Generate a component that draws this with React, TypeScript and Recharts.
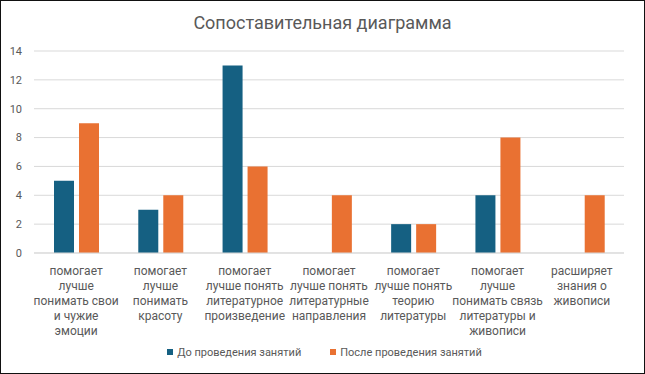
import { BarChart, Bar, XAxis, YAxis, CartesianGrid, Legend } from "recharts";

const categories = [
  "помогает\nлучше\nпонимать свои\nи чужие\nэмоции",
  "помогает\nлучше\nпонимать\nкрасоту",
  "помогает\nлучше понять\nлитературное\nпроизведение",
  "помогает\nлучше понять\nлитературные\nнаправления",
  "помогает\nлучше понять\nтеорию\nлитературы",
  "помогает\nлучше\nпонимать связь\nлитературы и\nживописи",
  "расширяет\nзнания о\nживописи",
];
const before = [5, 3, 13, 0, 2, 4, 0];
const after = [9, 4, 6, 4, 2, 8, 4];
const yTicks = [0, 2, 4, 6, 8, 10, 12, 14];

const BLUE = "#156082";
const ORANGE = "#E97132";
const TEXT = "#595959";
const FONT = "Roboto, 'Open Sans', sans-serif";

const rows = categories.map((c, i) => ({ cat: c, before: before[i], after: after[i] }));

function CatTick({ x, y, payload }: any) {
  const lines = String(payload.value).split("\n");
  return (
    <text x={x} y={y + 14} textAnchor="middle" fill={TEXT} fontSize={12} fontFamily={FONT}>
      {lines.map((l, i) => (
        <tspan key={i} x={x} dy={i === 0 ? 0 : 15}>
          {l}
        </tspan>
      ))}
    </text>
  );
}

function LegendBox() {
  const items = [
    { name: "До проведения занятий", color: BLUE },
    { name: "После проведения занятий", color: ORANGE },
  ];
  return (
    <div
      style={{
        display: "flex",
        justifyContent: "center",
        alignItems: "center",
        height: 24,
        gap: 29,
        paddingLeft: 24,
      }}
    >
      {items.map((it) => (
        <div key={it.name} style={{ display: "flex", alignItems: "center", fontSize: 11, color: TEXT, fontFamily: FONT }}>
          <span style={{ width: 6, height: 6, background: it.color, marginRight: 4, display: "inline-block" }} />
          {it.name}
        </div>
      ))}
    </div>
  );
}

export default function App() {
  return (
    <div
      style={{
        position: "absolute",
        left: 0,
        top: 0,
        width: 645,
        height: 374,
        boxSizing: "border-box",
        border: "1px solid #111",
        background: "#fff",
      }}
    >
      <div
        style={{
          position: "absolute",
          top: 11,
          left: 0,
          width: 643,
          textAlign: "center",
          fontSize: 18,
          color: TEXT,
          fontFamily: FONT,
          zIndex: 1,
        }}
      >
        Сопоставительная диаграмма
      </div>
      <BarChart
        width={643}
        height={372}
        data={rows}
        margin={{ top: 50, right: 20, left: 0, bottom: 9 }}
        barSize={20}
        barGap={5}
      >
        <CartesianGrid vertical={false} stroke="#D9D9D9" />
        <XAxis
          dataKey="cat"
          interval={0}
          tickLine={false}
          axisLine={{ stroke: "#D9D9D9" }}
          height={87}
          tick={<CatTick />}
        />
        <YAxis
          width={33}
          domain={[0, 14]}
          ticks={yTicks}
          tickLine={false}
          axisLine={false}
          tickSize={0}
          tickMargin={12}
          tick={{ fill: TEXT, fontSize: 11, fontFamily: FONT }}
        />
        <Legend verticalAlign="bottom" height={24} content={<LegendBox />} />
        <Bar dataKey="before" name="До проведения занятий" fill={BLUE} isAnimationActive={false} />
        <Bar dataKey="after" name="После проведения занятий" fill={ORANGE} isAnimationActive={false} />
      </BarChart>
    </div>
  );
}
